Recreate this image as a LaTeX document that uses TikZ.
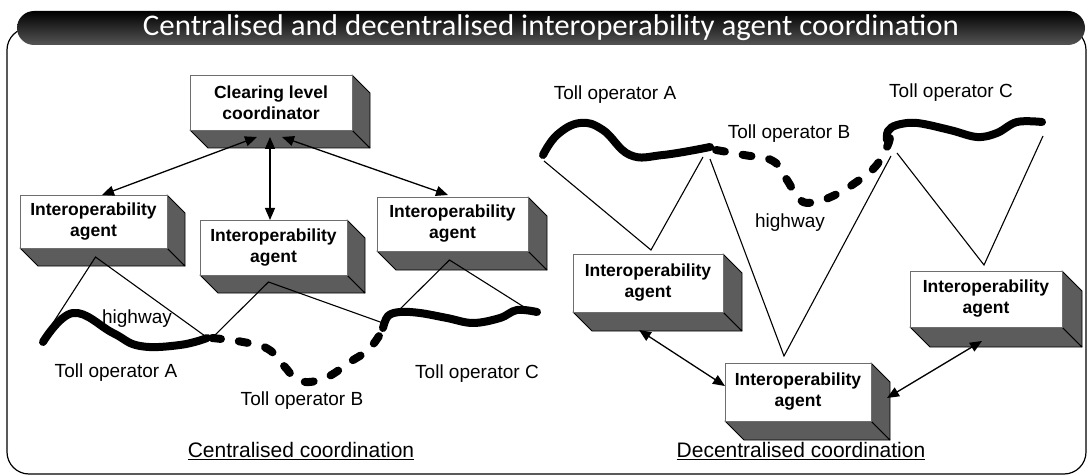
\documentclass[tikz,border=0pt]{standalone}
\usepackage{fontspec}
\setmainfont{Liberation Sans}
\newfontfamily\titlefont[FakeStretch=1.03]{Carlito}
\usetikzlibrary{arrows.meta,calc}
\definecolor{depthgray}{RGB}{92,92,92}
\definecolor{bargray}{RGB}{85,85,85}
\definecolor{edgegray}{RGB}{110,110,110}

\newcommand{\ioBox}[7]{%
  \filldraw[fill=depthgray,draw=black,line width=0.8pt,line join=round]
    (#2,#5) -- (#4,#5) -- ({#4+#6},{#5+#6}) -- ({#2+#6},{#5+#6}) -- cycle;
  \filldraw[fill=depthgray,draw=black,line width=0.8pt,line join=round]
    (#4,#3) -- ({#4+#6},{#3+#6}) -- ({#4+#6},{#5+#6}) -- (#4,#5) -- cycle;
  \node[frontbox,minimum width={#4-#2},minimum height={#5-#3}] (#1) at ({(#2+#4)/2},{(#3+#5)/2}) {#7};
}

\begin{document}
\begin{tikzpicture}[x=1pt,y=-1pt,
  road/.style={line width=8pt,line cap=round,line join=round},
  dashroad/.style={road,dash pattern=on 9pt off 18pt},
  thinline/.style={line width=1.1pt},
  biarrow/.style={line width=1.3pt,{Triangle[length=12pt,width=10pt]}-{Triangle[length=12pt,width=10pt]}},
  frontbox/.style={draw=edgegray,fill=white,line width=0.8pt,inner sep=0pt,outer sep=0pt,
    font=\bfseries\fontsize{17.5}{21}\selectfont,align=center},
  lbl/.style={font=\fontsize{19}{22}\selectfont,inner sep=0pt},
  caption/.style={font=\fontsize{21}{25}\selectfont,inner sep=0pt}]
\useasboundingbox (0,0) rectangle (1088,476);

% frame and title
\draw[line width=1.2pt,rounded corners=22] (7,28) rectangle (1086,474);
\shade[top color=black,bottom color=bargray,rounded corners=17] (17,11) rectangle (1085,45);
\node[font=\titlefont\fontsize{30}{36}\selectfont,text=white,inner sep=0pt] (title) at (551,28) {Centralised and decentralised interoperability agent coordination};

% ---------- left: centralised ----------
\draw[road] plot[smooth,tension=0.7] coordinates {(43,342) (73,313) (113,333) (140,346) (180,345) (207,338)};
\draw[dashroad] plot[smooth,tension=0.7] coordinates {(212,338) (243,342) (268,349) (284,366) (300,381) (325,378) (350,362) (370,348) (385,326)};
\draw[road] plot[smooth,tension=0.6] coordinates {(383,328) (388,316) (400,312) (420,313) (447,318) (473,323) (500,318) (517,310) (537,312)};

\coordinate (lA0) at (51,326);
\coordinate (lAB1) at (205,336);
\coordinate (lAB2) at (213,337);
\coordinate (lBC1) at (383,323);
\coordinate (lBC2) at (393,316);
\coordinate (lC1) at (524,307);

\ioBox{clr}{190}{75}{352}{130}{18}{Clearing level\\coordinator}
\ioBox{la}{20}{195}{167}{248}{18}{Interoperability\\agent}
\ioBox{lb}{200}{220}{347}{275}{18}{Interoperability\\agent}
\ioBox{lc}{377}{197}{528}{251}{19}{Interoperability\\agent}

\coordinate (laP) at ($(la.south)+(2,9)$);
\coordinate (lbP) at ($(lb.south)+(-5,7)$);
\coordinate (lcP) at ($(lc.south)+(-3,9)$);
\draw[thinline] (lA0) -- (laP) -- (lAB1);
\draw[thinline] (lAB2) -- (lbP) -- (lBC1);
\draw[thinline] (lBC2) -- (lcP) -- (lC1);

\draw[biarrow] ($(clr.south)+(-14,7)$) -- ($(la.north)+(8.5,0)$);
\draw[biarrow] ($(clr.south)+(-1,7)$) -- ($(lb.north)+(-3.5,0)$);
\draw[biarrow] ($(clr.south)+(11,7)$) -- ($(lc.north)+(-4.5,-2)$);

\node[lbl] (ltA) at (116,373) {Toll operator A};
\node[lbl] (lhw) at (137,319) {highway};
\node[lbl] (ltB) at (302,401) {Toll operator B};
\node[lbl] (ltC) at (477,374) {Toll operator C};

% ---------- right: decentralised ----------
\draw[road] plot[smooth,tension=0.7] coordinates {(543,155) (557,135) (580,123) (603,130) (630,155) (663,155) (710,147)};
\draw[dashroad] plot[smooth,tension=0.7] coordinates {(716,150) (744,155) (773,161) (787,180) (800,200) (815,202) (835,195) (855,183) (875,167) (887,147) (890,137)};
\draw[road] plot[smooth,tension=0.6] coordinates {(887,140) (888,131) (897,125) (917,123) (950,130) (977,137) (997,133) (1017,122) (1042,122)};

\coordinate (rA0) at (544,161);
\coordinate (rAB1) at (703,157);
\coordinate (rAB2) at (710,159);
\coordinate (rBC1) at (891,156);
\coordinate (rBC2) at (897,153);
\coordinate (rC1) at (1043,136);

\ioBox{ra}{573}{254}{723}{312}{19}{Interoperability\\agent}
\ioBox{rc}{910}{271}{1062}{327}{20}{Interoperability\\agent}
\ioBox{rb}{725}{363}{871}{421}{19}{Interoperability\\agent}

\coordinate (raP) at ($(ra.north)+(3,-4)$);
\coordinate (rbP) at ($(rb.north)+(-14,-7)$);
\coordinate (rcP) at ($(rc.north)+(-2,-6)$);
\draw[thinline] (rA0) -- (raP) -- (rAB1);
\draw[thinline] (rAB2) -- (rbP) -- (rBC1);
\draw[thinline] (rBC2) -- (rcP) -- (rC1);

\draw[biarrow] ($(ra.south)+(-9,18)$) -- ($(rb.west)+(0,-6)$);
\draw[biarrow] ($(rc.south)+(-4,14)$) -- ($(rb.east)+(16,6)$);

\node[lbl] (rtA) at (615,95) {Toll operator A};
\node[lbl] (rtB) at (789,134) {Toll operator B};
\node[lbl] (rhw) at (790,223) {highway};
\node[lbl] (rtC) at (951,93) {Toll operator C};

% captions
\node[caption] (capL) at (301,451) {\underline{Centralised coordination}};
\node[caption] (capR) at (801,451) {\underline{Decentralised coordination}};
\end{tikzpicture}
\end{document}
